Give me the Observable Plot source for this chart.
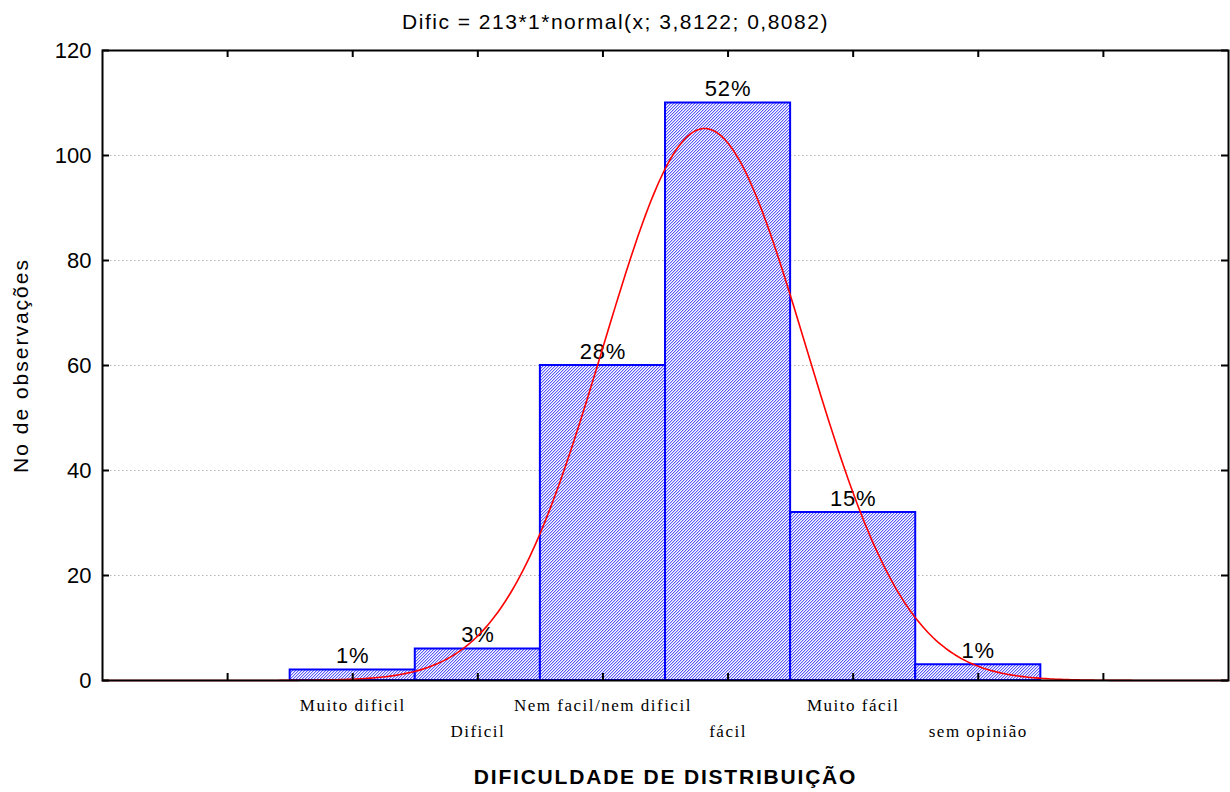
<!DOCTYPE html>
<html>
<head>
<meta charset="utf-8">
<script src="https://cdn.jsdelivr.net/npm/d3@7"></script>
<script src="https://cdn.jsdelivr.net/npm/@observablehq/plot@0.6"></script>
<style>
  html, body { margin: 0; padding: 0; background: #fff; }
  .cat-label text { letter-spacing: 1.5px; }
  .title-text text { letter-spacing: 1.5px; }
  .ylabel-text text { letter-spacing: 2px; }
  .xlabel-text text { letter-spacing: 1.8px; }
  .pct-text text { letter-spacing: 0.8px; }
</style>
</head>
<body>
<div id="chart"></div>
<script>
// Survey answers: perceived difficulty, coded 1..6
const codes = [1, 2, 3, 4, 5, 6];
const categories = ["Muito dificil", "Dificil", "Nem facil/nem dificil", "fácil", "Muito fácil", "sem opinião"];
const counts = [2, 6, 60, 110, 32, 3];
const percentLabels = ["1%", "3%", "28%", "52%", "15%", "1%"];

// Fitted normal stated in the title: Dific = 213*1*normal(x; 3,8122; 0,8082)
const fitN = 213;
const fitMean = 3.8122;
const fitSD = 0.8082;

const yTicks = [0, 20, 40, 60, 80, 100, 120];
const xTicks = [0, 1, 2, 3, 4, 5, 6, 7];
const xDomain = [-1, 8];

const bars = codes.map((c, i) => ({code: c, count: counts[i], pct: percentLabels[i], label: categories[i], row: i % 2}));

const normalPdf = (x) => Math.exp(-0.5 * ((x - fitMean) / fitSD) ** 2) / (fitSD * Math.sqrt(2 * Math.PI));
const curve = d3.range(xDomain[0], xDomain[1] + 1e-9, 0.02).map(x => ({x, y: fitN * normalPdf(x)}));

const W = 1230, H = 792;
const mL = 102, mR = 2, mT = 50, mB = 112;
const plotW = W - mL - mR, plotH = H - mT - mB;
const tickLen = 7;
const serif = "'Liberation Serif', 'Times New Roman', serif";

const chart = Plot.plot({
  width: W,
  height: H,
  marginLeft: mL,
  marginRight: mR,
  marginTop: mT,
  marginBottom: mB,
  style: {fontFamily: "Arial, 'Liberation Sans', sans-serif", fontSize: "20px", background: "#fff", color: "#000"},
  x: {domain: xDomain, axis: null},
  y: {domain: [0, 120], axis: null},
  marks: [
    // dotted horizontal grid
    Plot.ruleY(yTicks.filter(t => t > 0 && t < 120), {stroke: "#b4b4b4", strokeWidth: 1, strokeDasharray: "1.5,2.5"}),
    // bars
    Plot.rect(bars, {x1: d => d.code - 0.5, x2: d => d.code + 0.5, y1: 0, y2: "count", fill: "url(#hatch)", stroke: "#0000ff", strokeWidth: 2}),
    // percent labels
    Plot.text(bars, {x: "code", y: "count", text: "pct", lineAnchor: "bottom", dy: -7, fontSize: 22, className: "pct-text"}),
    // fitted normal
    Plot.line(curve, {x: "x", y: "y", stroke: "#ff0000", strokeWidth: 1.6, curve: "linear"}),
    // frame
    Plot.frame({stroke: "#000", strokeWidth: 2}),
    // inward ticks: left, right, bottom, top
    Plot.ruleY(yTicks, {insetRight: plotW - tickLen, stroke: "#000", strokeWidth: 2}),
    Plot.ruleY(yTicks, {insetLeft: plotW - tickLen, stroke: "#000", strokeWidth: 2}),
    Plot.ruleX(xTicks, {insetTop: plotH - tickLen, stroke: "#000", strokeWidth: 2}),
    Plot.ruleX(xTicks, {insetBottom: plotH - tickLen, stroke: "#000", strokeWidth: 2}),
    // y tick labels
    Plot.text(yTicks, {y: d => d, text: d => String(d), frameAnchor: "left", textAnchor: "end", dx: -11, fontSize: 22}),
    // category labels in two staggered rows
    Plot.text(bars.filter(d => d.row === 0), {x: "code", text: "label", frameAnchor: "bottom", lineAnchor: "middle", dy: 25, fontFamily: serif, fontSize: 17, className: "cat-label"}),
    Plot.text(bars.filter(d => d.row === 1), {x: "code", text: "label", frameAnchor: "bottom", lineAnchor: "middle", dy: 51, fontFamily: serif, fontSize: 17, className: "cat-label"}),
    // title, centred on the whole figure
    Plot.text(["Dific = 213*1*normal(x; 3,8122; 0,8082)"], {frameAnchor: "top", textAnchor: "middle", lineAnchor: "middle", dx: (W / 2) - (mL + plotW / 2), dy: -28, fontSize: 21, className: "title-text"}),
    // y axis label
    Plot.text(["No de observações"], {frameAnchor: "left", textAnchor: "middle", rotate: -90, lineAnchor: "middle", dx: -81, fontSize: 21, className: "ylabel-text"}),
    // x axis label
    Plot.text(["DIFICULDADE DE DISTRIBUIÇÃO"], {frameAnchor: "bottom", textAnchor: "middle", lineAnchor: "middle", dy: 97, fontSize: 21, fontWeight: "bold", className: "xlabel-text"})
  ]
});

// diagonal hatch used by the bars: a blue one-pixel diagonal with a pale edge
const ns = "http://www.w3.org/2000/svg";
const defs = document.createElementNS(ns, "defs");
defs.innerHTML = `
  <pattern id="hatch" patternUnits="userSpaceOnUse" width="3" height="3">
    <rect width="3" height="3" fill="#ffffff"/>
    <rect x="0" y="2" width="1" height="1" fill="#5a5aff"/>
    <rect x="1" y="1" width="1" height="1" fill="#5a5aff"/>
    <rect x="2" y="0" width="1" height="1" fill="#5a5aff"/>
    <rect x="1" y="2" width="1" height="1" fill="#c4c4ff"/>
    <rect x="2" y="1" width="1" height="1" fill="#c4c4ff"/>
    <rect x="0" y="0" width="1" height="1" fill="#c4c4ff"/>
  </pattern>`;
chart.insertBefore(defs, chart.firstChild);

document.getElementById("chart").appendChild(chart);
</script>
</body>
</html>
